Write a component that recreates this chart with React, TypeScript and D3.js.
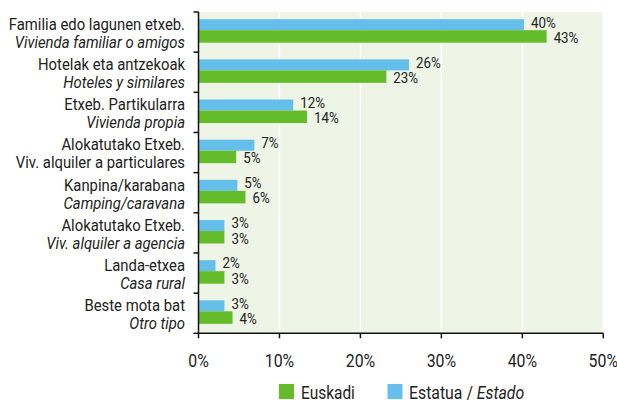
import React from "react";
import * as d3 from "d3";

const categoriesEu = [
  "Familia edo lagunen etxeb.",
  "Hotelak eta antzekoak",
  "Etxeb. Partikularra",
  "Alokatutako Etxeb.",
  "Kanpina/karabana",
  "Alokatutako Etxeb.",
  "Landa-etxea",
  "Beste mota bat",
];
const categoriesEs = [
  "Vivienda familiar o amigos",
  "Hoteles y similares",
  "Vivienda propia",
  "Viv. alquiler a particulares",
  "Camping/caravana",
  "Viv. alquiler a agencia",
  "Casa rural",
  "Otro tipo",
];
const esItalic = [true, true, true, false, true, true, true, true];
const estatuaValues = [40.2, 26.0, 11.7, 6.9, 4.8, 3.2, 2.1, 3.2];
const estatuaLabels = ["40%", "26%", "12%", "7%", "5%", "3%", "2%", "3%"];
const euskadiValues = [43.0, 23.2, 13.4, 4.65, 5.8, 3.2, 3.2, 4.2];
const euskadiLabels = ["43%", "23%", "14%", "5%", "6%", "3%", "3%", "4%"];
const xTicks = [0, 10, 20, 30, 40, 50];

const GREEN = "#64bc2b";
const BLUE = "#64bfea";
const BG = "#eef4e6";
const FONT = "Roboto, 'Liberation Sans', sans-serif";

function T({ x, y, size, sx = 0.88, anchor = "start", italic = false, children }: any) {
  return (
    <text
      transform={`translate(${x},${y}) scale(${sx},1)`}
      fontSize={size}
      textAnchor={anchor}
      fontStyle={italic ? "italic" : "normal"}
      fill="#222"
    >
      {children}
    </text>
  );
}

export default function App() {
  const W = 617, H = 400;
  const left = 198.5, right = 603.3, top = 12, bottom = 333.3;
  const x = d3.scaleLinear().domain([0, 50]).range([left, right]);
  const idx = d3.range(categoriesEu.length);
  const y = d3.scaleBand<number>().domain(idx).range([top, bottom]);
  const bw = y.bandwidth();

  return (
    <svg width={W} height={H} style={{ position: "absolute", left: 0, top: 0 }} fontFamily={FONT}>
      <rect x={left} y={top} width={right - left} height={bottom - top} fill={BG} />
      {xTicks.slice(1).map((t) => (
        <line key={"g" + t} x1={x(t)} x2={x(t)} y1={top} y2={bottom} stroke="#fff" strokeWidth={1.5} />
      ))}
      {idx.map((i) => {
        const b = y(i)!;
        const by = b + 7.2;
        const gy = by + 11;
        return (
          <g key={i}>
            <rect x={x(0)} y={by} width={x(estatuaValues[i]) - x(0)} height={11} fill={BLUE} />
            <rect x={x(0)} y={gy} width={x(euskadiValues[i]) - x(0)} height={12.5} fill={GREEN} />
            <T x={x(estatuaValues[i]) + 7} y={by + 8.3} size={14.5} sx={0.92}>{estatuaLabels[i]}</T>
            <T x={x(euskadiValues[i]) + 7} y={gy + 12.5} size={14.5} sx={0.92}>{euskadiLabels[i]}</T>
            <T x={185} y={b + 18} size={16.5} sx={0.9} anchor="end">{categoriesEu[i]}</T>
            <T x={185} y={b + 36} size={16.5} sx={0.9} anchor="end" italic={esItalic[i]}>{categoriesEs[i]}</T>
          </g>
        );
      })}
      {/* axes */}
      <line x1={left} x2={left} y1={top} y2={bottom} stroke="#111" strokeWidth={1.5} />
      <line x1={left} x2={right} y1={bottom} y2={bottom} stroke="#111" strokeWidth={1.5} />
      {d3.range(categoriesEu.length + 1).map((k) => {
        const yy = top + k * bw;
        return <line key={"yt" + k} x1={left - 5} x2={left} y1={yy} y2={yy} stroke="#111" strokeWidth={1.5} />;
      })}
      {xTicks.map((t) => (
        <g key={"xt" + t}>
          <line x1={x(t)} x2={x(t)} y1={bottom} y2={bottom + 5} stroke="#111" strokeWidth={1.5} />
          <T x={x(t)} y={367.3} size={18} sx={0.88} anchor="middle">{t}%</T>
        </g>
      ))}
      {/* legend */}
      <rect x={279} y={384} width={15} height={15} fill={GREEN} />
      <T x={301} y={398.5} size={18} sx={0.86}>Euskadi</T>
      <rect x={387.5} y={384} width={15} height={15} fill={BLUE} />
      <T x={409} y={398.5} size={18} sx={0.88}>
        Estatua / <tspan fontStyle="italic">Estado</tspan>
      </T>
    </svg>
  );
}
